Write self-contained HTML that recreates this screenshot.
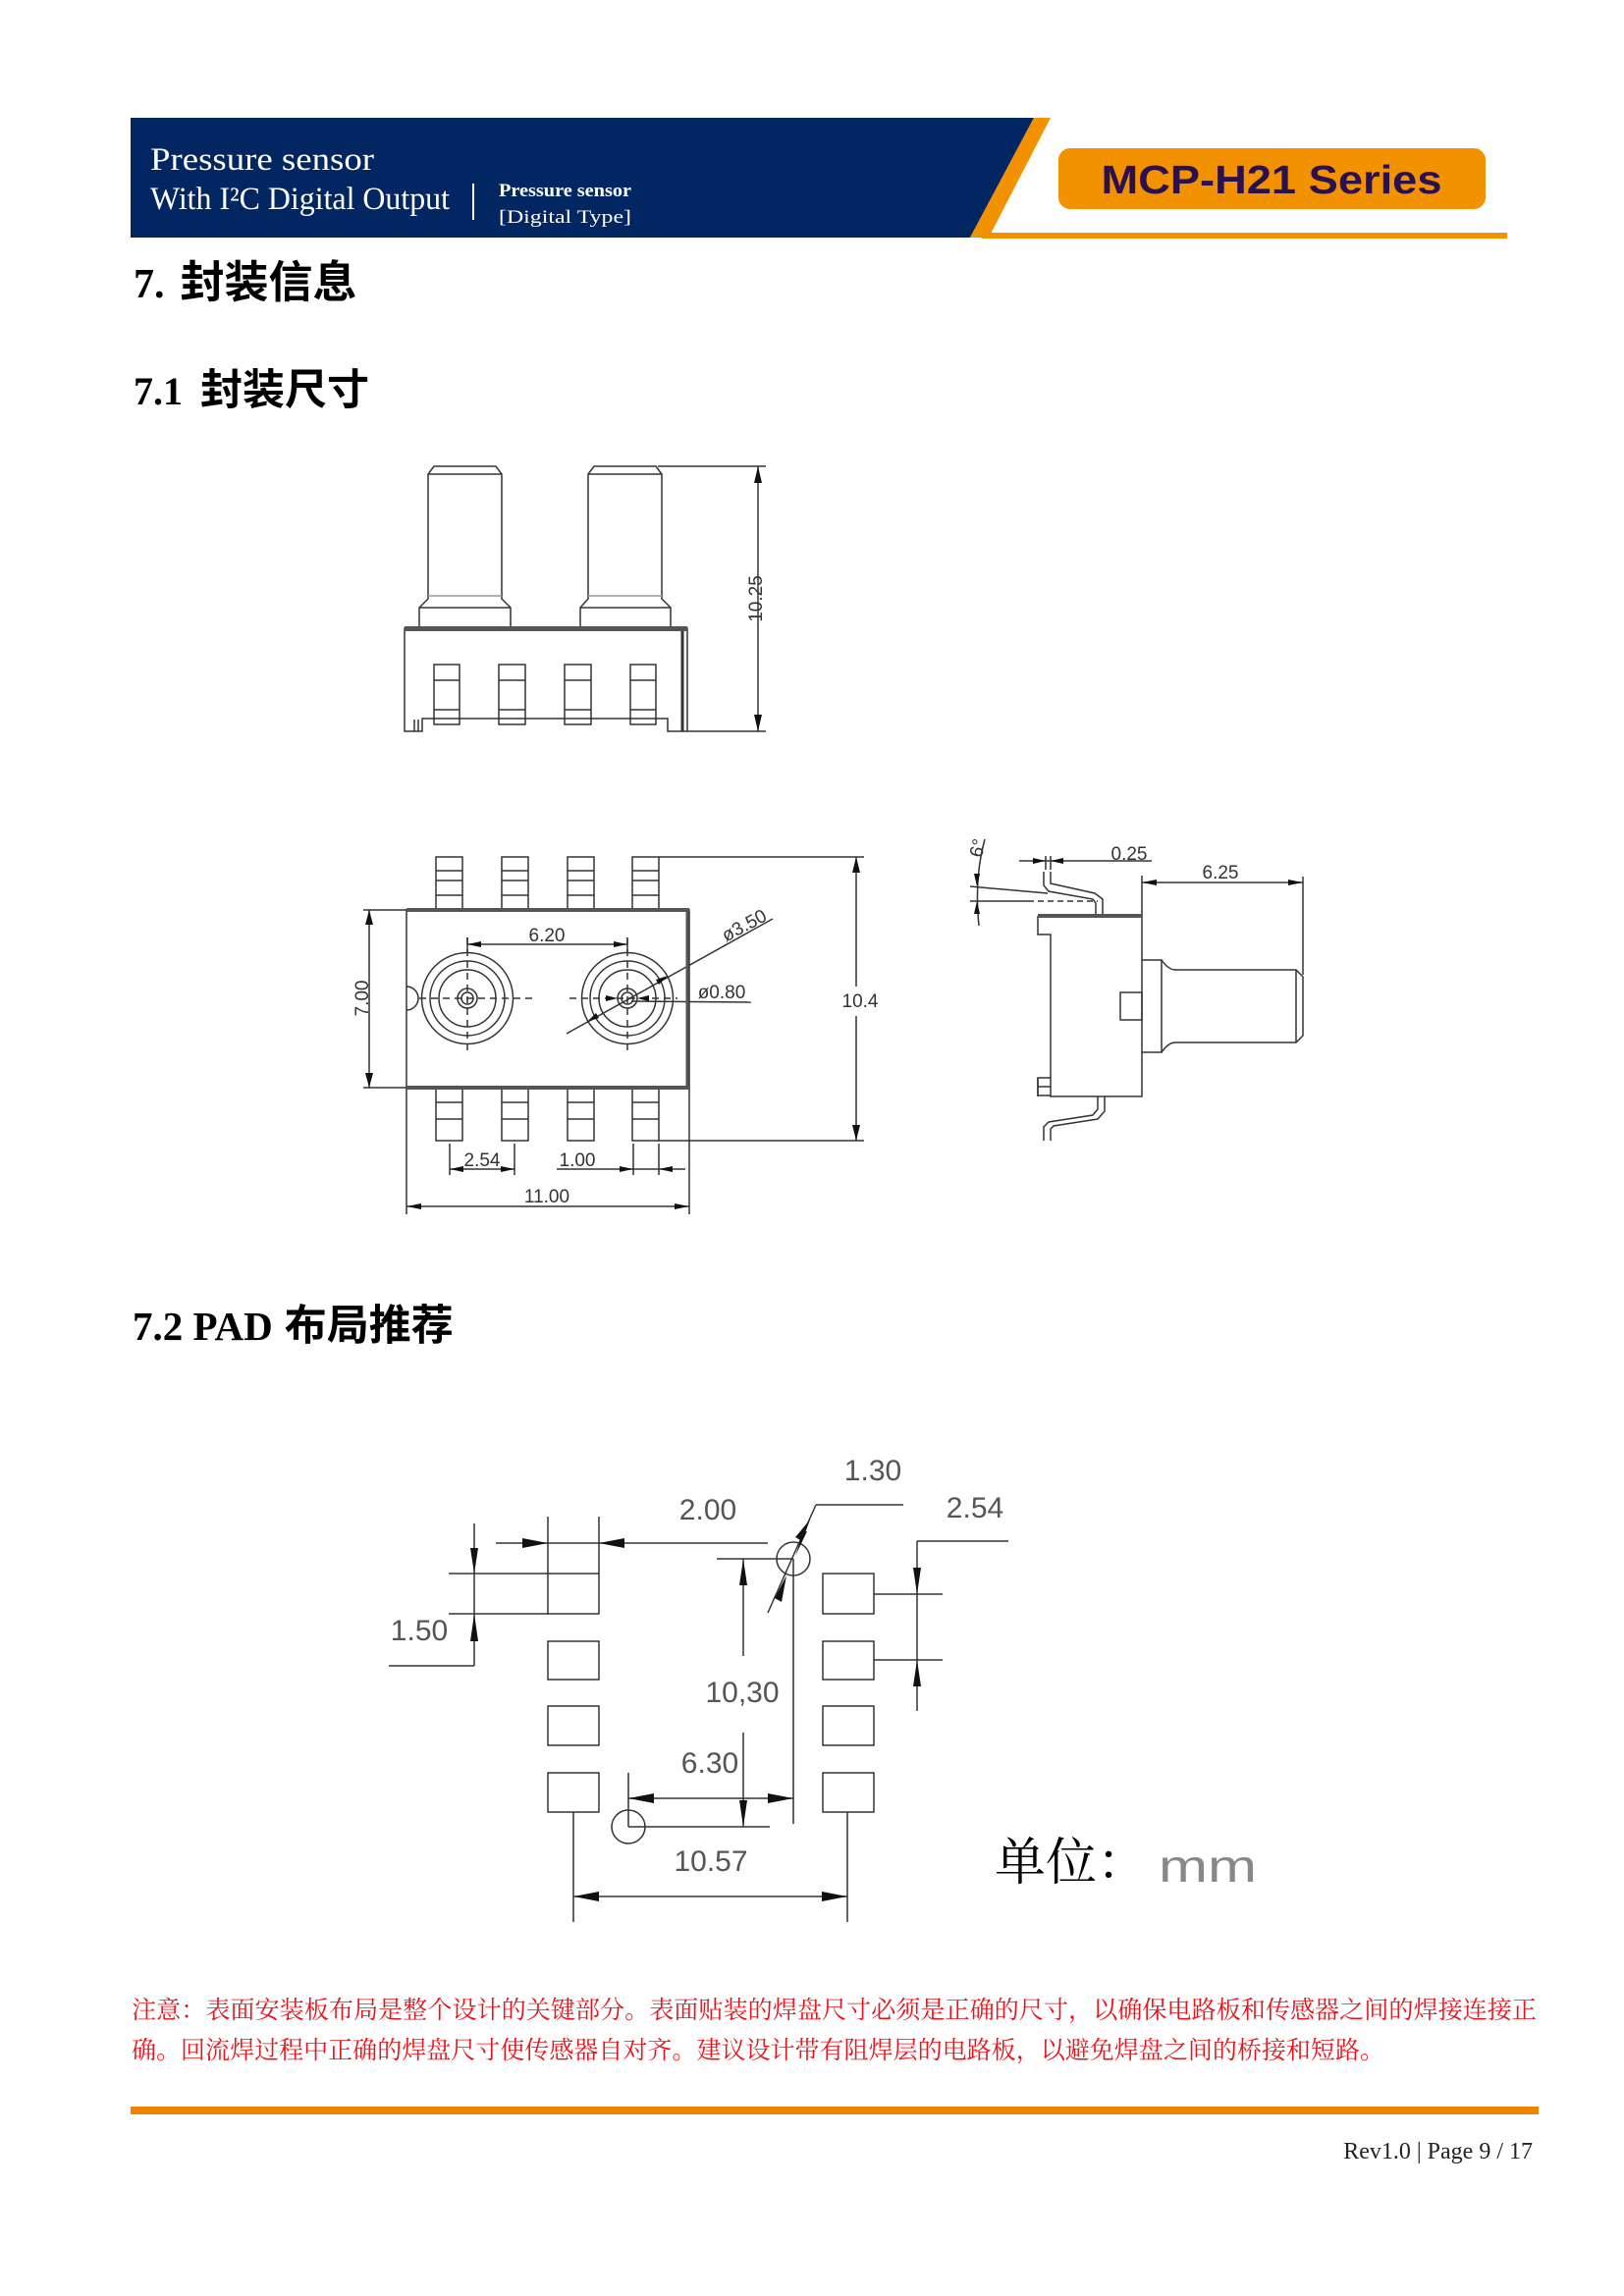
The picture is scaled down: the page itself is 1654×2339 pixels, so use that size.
<!DOCTYPE html>
<html><head><meta charset="utf-8"><style>
html,body{margin:0;padding:0;background:#fff}
svg{display:block}
.d{stroke:#333;stroke-width:1.5;fill:none}
.dt{font-family:"Liberation Sans",sans-serif;font-size:19px;fill:#333;text-anchor:middle}
.pt{font-family:"Liberation Sans",sans-serif;font-size:30px;fill:#555;text-anchor:middle}
.ar{fill:#111;stroke:none}
</style></head><body>
<svg width="1654" height="2339" viewBox="0 0 1654 2339" xmlns="http://www.w3.org/2000/svg">
<!-- Header -->
<polygon points="133,120 1053,120 988,242 133,242" fill="#022662"/>
<polygon points="1053,120 1070,120 1007,242 988,242" fill="#f39200"/>
<rect x="1000" y="237" width="535" height="6" fill="#f39200"/>
<rect x="1078" y="151" width="435" height="62" rx="12" fill="#f39200"/>
<text x="1295" y="197" text-anchor="middle" font-family="Liberation Sans,sans-serif" font-weight="bold" font-size="41" fill="#2b1050" textLength="347" lengthAdjust="spacingAndGlyphs">MCP-H21 Series</text>
<text x="153" y="173" font-family="Liberation Serif,serif" font-size="33" fill="#fff" textLength="228" lengthAdjust="spacingAndGlyphs">Pressure sensor</text>
<text x="153" y="213" font-family="Liberation Serif,serif" font-size="33" fill="#fff" textLength="305" lengthAdjust="spacingAndGlyphs">With I²C Digital Output</text>
<rect x="481" y="187" width="2" height="37" fill="#fff"/>
<text x="508" y="200" font-family="Liberation Serif,serif" font-size="19" font-weight="bold" fill="#fff" textLength="135" lengthAdjust="spacingAndGlyphs">Pressure sensor</text>
<text x="508" y="227" font-family="Liberation Serif,serif" font-size="19" fill="#fff" textLength="135" lengthAdjust="spacingAndGlyphs">[Digital Type]</text>

<!-- Headings -->
<text x="136" y="303" font-size="42" font-weight="bold" fill="#000"><tspan font-family="Liberation Serif,serif">7.</tspan><tspan font-family="Liberation Sans,Noto Sans CJK SC,sans-serif" dx="16" font-size="45">封装信息</tspan></text>
<text x="136" y="412" font-size="40" font-weight="bold" fill="#000"><tspan font-family="Liberation Serif,serif">7.1</tspan><tspan font-family="Liberation Sans,Noto Sans CJK SC,sans-serif" dx="18" font-size="43">封装尺寸</tspan></text>
<text x="135" y="1365" font-size="41" font-weight="bold" fill="#000"><tspan font-family="Liberation Serif,serif">7.2 PAD</tspan><tspan font-family="Liberation Sans,Noto Sans CJK SC,sans-serif" dx="12" font-size="43">布局推荐</tspan></text>

<!-- Top view -->
<g class="d">
<path d="M427,639 L427,619 L436,610 L436,483 L442,475 L505,475 L511,483 L511,610 L520,619 L520,639"/>
<path d="M591,639 L591,619 L599,610 L599,483 L605,475 L668,475 L674,483 L674,610 L683,619 L683,639"/>
<line x1="436" y1="607" x2="511" y2="607" stroke="#999"/><line x1="599" y1="607" x2="674" y2="607" stroke="#999"/>
<line x1="436" y1="483" x2="511" y2="483"/><line x1="599" y1="483" x2="674" y2="483"/>
<line x1="427" y1="619" x2="520" y2="619"/><line x1="591" y1="619" x2="683" y2="619"/>
<path d="M412,745 L412,640 L700,640 L700,745 L680,745 L680,732 L430,732 L430,745 Z"/>
<line x1="695" y1="641" x2="695" y2="745" stroke-width="3"/>
<line x1="422" y1="733" x2="422" y2="745"/><line x1="426" y1="733" x2="426" y2="745"/>
<rect x="442" y="677" width="26" height="61"/><rect x="508" y="677" width="27" height="61"/><rect x="575" y="677" width="27" height="61"/><rect x="642" y="677" width="26" height="61"/>
<path d="M442,693H468M442,723H468M508,693H535M508,723H535M575,693H602M575,723H602M642,693H668M642,723H668"/>
<line x1="670" y1="475" x2="780" y2="475"/><line x1="700" y1="745" x2="780" y2="745"/>
<line x1="772" y1="475" x2="772" y2="745"/>
</g>
<rect x="412" y="638" width="288" height="5" fill="#555"/>
<polygon class="ar" points="772,475 768,492 776,492"/><polygon class="ar" points="772,745 768,728 776,728"/>
<text class="dt" transform="translate(769,610) rotate(-90)" y="7">10.25</text>

<!-- Bottom view -->
<g class="d">
<rect x="414" y="927" width="288" height="181"/>
<path d="M414,1005 A12,12 0 0 1 414,1029"/>
<g id="tp"><rect x="444" y="873" width="27" height="54"/><line x1="444" y1="887" x2="471" y2="887"/><line x1="444" y1="897" x2="471" y2="897"/><line x1="444" y1="912" x2="471" y2="912"/></g>
<use href="#tp" x="67"/><use href="#tp" x="134"/><use href="#tp" x="200"/>
<g id="bp"><rect x="444" y="1108" width="27" height="54"/><line x1="444" y1="1123" x2="471" y2="1123"/><line x1="444" y1="1140" x2="471" y2="1140"/></g>
<use href="#bp" x="67"/><use href="#bp" x="134"/><use href="#bp" x="200"/>
<circle cx="476" cy="1017" r="46.5"/><circle cx="476" cy="1017" r="38"/><circle cx="476" cy="1017" r="29"/><circle cx="476" cy="1017" r="10"/><circle cx="476" cy="1017" r="6"/>
<circle cx="639" cy="1017" r="46.5"/><circle cx="639" cy="1017" r="38"/><circle cx="639" cy="1017" r="29"/><circle cx="639" cy="1017" r="10"/><circle cx="639" cy="1017" r="6"/>
<g stroke-dasharray="7,5"><line x1="427" y1="1017" x2="542" y2="1017"/><line x1="580" y1="1017" x2="690" y2="1017"/><line x1="476" y1="955" x2="476" y2="1075"/><line x1="639" y1="955" x2="639" y2="1075"/></g>
<line x1="476" y1="955" x2="476" y2="970"/><line x1="639" y1="955" x2="639" y2="970"/>
<line x1="476" y1="962" x2="639" y2="962"/>
<line x1="577" y1="1053" x2="787" y2="936"/>
<line x1="643" y1="1020" x2="765" y2="1021"/>
<line x1="370" y1="927" x2="414" y2="927"/><line x1="370" y1="1108" x2="414" y2="1108"/>
<line x1="376" y1="927" x2="376" y2="1108"/>
<line x1="671" y1="873" x2="880" y2="873"/><line x1="671" y1="1162" x2="880" y2="1162"/>
<line x1="872" y1="873" x2="872" y2="1005"/><line x1="872" y1="1035" x2="872" y2="1162"/>
<line x1="458" y1="1165" x2="458" y2="1197"/><line x1="524" y1="1165" x2="524" y2="1197"/><line x1="458" y1="1191" x2="524" y2="1191"/>
<line x1="645" y1="1165" x2="645" y2="1197"/><line x1="671" y1="1165" x2="671" y2="1197"/><line x1="567" y1="1191" x2="698" y2="1191"/>
<line x1="414" y1="1108" x2="414" y2="1237"/><line x1="702" y1="1108" x2="702" y2="1237"/><line x1="414" y1="1229" x2="702" y2="1229"/>
</g>
<rect x="414" y="925" width="288" height="4" fill="#555"/><rect x="414" y="1106" width="288" height="4" fill="#555"/>
<line x1="700" y1="927" x2="700" y2="1108" stroke="#555" stroke-width="3"/>
<polygon class="ar" points="476,962 490,959 490,965"/><polygon class="ar" points="639,962 625,959 625,965"/>
<polygon class="ar" points="376,927 372,942 380,942"/><polygon class="ar" points="376,1108 372,1093 380,1093"/>
<polygon class="ar" points="872,873 868,889 876,889"/><polygon class="ar" points="872,1162 868,1146 876,1146"/>
<polygon class="ar" points="458,1191 472,1188 472,1194"/><polygon class="ar" points="524,1191 510,1188 510,1194"/>
<polygon class="ar" points="645,1191 631,1188 631,1194"/><polygon class="ar" points="671,1191 685,1188 685,1194"/>
<polygon class="ar" points="414,1229 429,1226 429,1232"/><polygon class="ar" points="702,1229 687,1226 687,1232"/>
<polygon class="ar" points="629,1017 617,1014 617,1020"/><polygon class="ar" points="649,1017 661,1014 661,1020"/>
<polygon class="ar" points="680,994 668,998 671,1003"/><polygon class="ar" points="598,1041 610,1037 607,1032"/>
<text class="dt" x="557" y="959">6.20</text>
<text class="dt" transform="translate(758,943) rotate(-28)" y="6">ø3.50</text>
<text class="dt" x="735" y="1017">ø0.80</text>
<text class="dt" transform="translate(368,1017) rotate(-90)" y="7">7.00</text>
<text class="dt" x="876" y="1026">10.4</text>
<text class="dt" x="491" y="1188">2.54</text>
<text class="dt" x="588" y="1188">1.00</text>
<text class="dt" x="557" y="1225">11.00</text>

<!-- Side view -->
<g class="d">
<path d="M1057,933 L1163,933 L1163,1117 L1070,1117 L1070,1098 L1057,1098 L1057,1117 M1070,1098 L1070,952 L1057,952 L1057,933"/>
<path d="M1057,1098 L1057,1116 L1070,1116 M1057,1107 L1070,1107"/>
<rect x="1141" y="1011" width="22" height="28"/>
<path d="M1163,978 L1183,978 L1183,1072 L1163,1072"/>
<path d="M1183,978 Q1190,988 1197,988 L1320,988 L1327,995 L1327,1055 L1320,1062 L1197,1062 Q1190,1062 1183,1072"/>
<line x1="1320" y1="988" x2="1320" y2="1062"/>
<path d="M1063,888 L1063,902 L1068,908 L1113,916 L1116,920 L1116,933"/>
<path d="M1070,888 L1070,900 L1115,910 L1123,916 L1123,933"/>
<path d="M1118,1117 L1118,1130 L1113,1136 L1068,1143 L1063,1148 L1063,1162"/>
<path d="M1125,1117 L1125,1132 L1118,1140 L1073,1147 L1070,1150 L1070,1162"/>
<line x1="1038" y1="877" x2="1173" y2="877"/>
<line x1="1065" y1="872" x2="1065" y2="886"/><line x1="1070" y1="872" x2="1070" y2="886"/>
<line x1="1163" y1="892" x2="1163" y2="933"/><line x1="1327" y1="893" x2="1327" y2="993"/>
<line x1="1163" y1="899" x2="1327" y2="899"/>
<line x1="988" y1="903" x2="1067" y2="910"/>
<line x1="988" y1="918" x2="1047" y2="918"/><line x1="1047" y1="918" x2="1118" y2="918" stroke-dasharray="6,4"/>
<path d="M1003,855 Q992,895 997,943"/>
</g>
<rect x="1057" y="931" width="106" height="4" fill="#555"/>
<polygon class="ar" points="1065,877 1052,874 1052,880"/><polygon class="ar" points="1070,877 1083,874 1083,880"/>
<polygon class="ar" points="1163,899 1178,896 1178,902"/><polygon class="ar" points="1327,899 1312,896 1312,902"/>
<polygon class="ar" points="995,903 992,890 998,890"/><polygon class="ar" points="995,918 992,931 998,931"/>
<text class="dt" x="1150" y="876">0.25</text>
<text class="dt" x="1243" y="895">6.25</text>
<text class="dt" transform="translate(996,864) rotate(-75)" y="6">6°</text>

<!-- Pad layout -->
<g class="d" stroke="#222">
<rect x="558" y="1603" width="52" height="41"/><rect x="558" y="1672" width="52" height="39"/><rect x="558" y="1738" width="52" height="40"/><rect x="558" y="1806" width="52" height="40"/>
<rect x="838" y="1603" width="52" height="41"/><rect x="838" y="1672" width="52" height="39"/><rect x="838" y="1738" width="52" height="40"/><rect x="838" y="1806" width="52" height="40"/>
<line x1="558" y1="1545" x2="558" y2="1603"/><line x1="610" y1="1545" x2="610" y2="1603"/>
<line x1="505" y1="1572" x2="782" y2="1572"/>
<line x1="483" y1="1552" x2="483" y2="1697"/><line x1="457" y1="1603" x2="558" y2="1603"/><line x1="457" y1="1644" x2="558" y2="1644"/><line x1="396" y1="1697" x2="483" y2="1697"/>
<circle cx="808" cy="1588" r="17"/>
<line x1="831" y1="1533" x2="920" y2="1533"/><line x1="831" y1="1533" x2="782" y2="1643"/>
<line x1="757" y1="1588" x2="757" y2="1687"/><line x1="757" y1="1765" x2="757" y2="1861"/>
<line x1="730" y1="1588" x2="808" y2="1588"/><line x1="640" y1="1861" x2="784" y2="1861"/>
<line x1="808" y1="1588" x2="808" y2="1858"/>
<line x1="640" y1="1832" x2="808" y2="1832"/><line x1="640" y1="1806" x2="640" y2="1861"/>
<circle cx="640" cy="1861" r="17"/>
<line x1="934" y1="1570" x2="934" y2="1743"/><line x1="934" y1="1570" x2="1027" y2="1570"/>
<line x1="890" y1="1624" x2="960" y2="1624"/><line x1="890" y1="1691" x2="960" y2="1691"/>
<line x1="584" y1="1846" x2="584" y2="1958"/><line x1="863" y1="1846" x2="863" y2="1958"/>
<line x1="584" y1="1932" x2="863" y2="1932"/>
</g>
<polygon class="ar" points="558,1572 532,1567 532,1577"/><polygon class="ar" points="610,1572 636,1567 636,1577"/>
<polygon class="ar" points="483,1603 479,1577 487,1577"/><polygon class="ar" points="483,1644 479,1672 487,1672"/>
<polygon class="ar" points="818,1561 810,1585 822,1560" /><polygon class="ar" points="825,1548 817,1570 810,1566"/>
<polygon class="ar" points="801,1605 789,1628 796,1632"/>
<polygon class="ar" points="757,1588 753,1615 761,1615"/><polygon class="ar" points="757,1861 753,1834 761,1834"/>
<polygon class="ar" points="640,1832 666,1827 666,1837"/><polygon class="ar" points="808,1832 782,1827 782,1837"/>
<polygon class="ar" points="934,1624 930,1597 938,1597"/><polygon class="ar" points="934,1691 930,1718 938,1718"/>
<polygon class="ar" points="584,1932 610,1927 610,1937"/><polygon class="ar" points="863,1932 837,1927 837,1937"/>
<text class="pt" x="889" y="1508">1.30</text>
<text class="pt" x="721" y="1548">2.00</text>
<text class="pt" x="993" y="1546">2.54</text>
<text class="pt" x="427" y="1671">1.50</text>
<text class="pt" x="756" y="1734">10,30</text>
<text class="pt" x="723" y="1806">6.30</text>
<text class="pt" x="724" y="1906">10.57</text>
<text x="1013" y="1915" font-family="Liberation Serif,Noto Serif CJK SC,serif" font-size="52" fill="#000">单位：</text>
<text x="1180" y="1917" font-family="Liberation Sans,sans-serif" font-size="46" fill="#888" textLength="100" lengthAdjust="spacingAndGlyphs">mm</text>

<!-- Note -->
<text x="134" y="2056" font-family="Liberation Serif,Noto Serif CJK SC,serif" font-size="25" fill="#e8141c" textLength="1431" lengthAdjust="spacingAndGlyphs">注意：表面安装板布局是整个设计的关键部分。表面贴装的焊盘尺寸必须是正确的尺寸，以确保电路板和传感器之间的焊接连接正</text>
<text x="134" y="2097" font-family="Liberation Serif,Noto Serif CJK SC,serif" font-size="25" fill="#e8141c" textLength="1276" lengthAdjust="spacingAndGlyphs">确。回流焊过程中正确的焊盘尺寸使传感器自对齐。建议设计带有阻焊层的电路板，以避免焊盘之间的桥接和短路。</text>

<!-- Footer -->
<rect x="133" y="2146" width="1434" height="8" fill="#ee8400"/>
<text x="1561" y="2199" text-anchor="end" font-family="Liberation Serif,serif" font-size="24" fill="#222">Rev1.0 | Page 9  /  17</text>
</svg>
</body></html>
